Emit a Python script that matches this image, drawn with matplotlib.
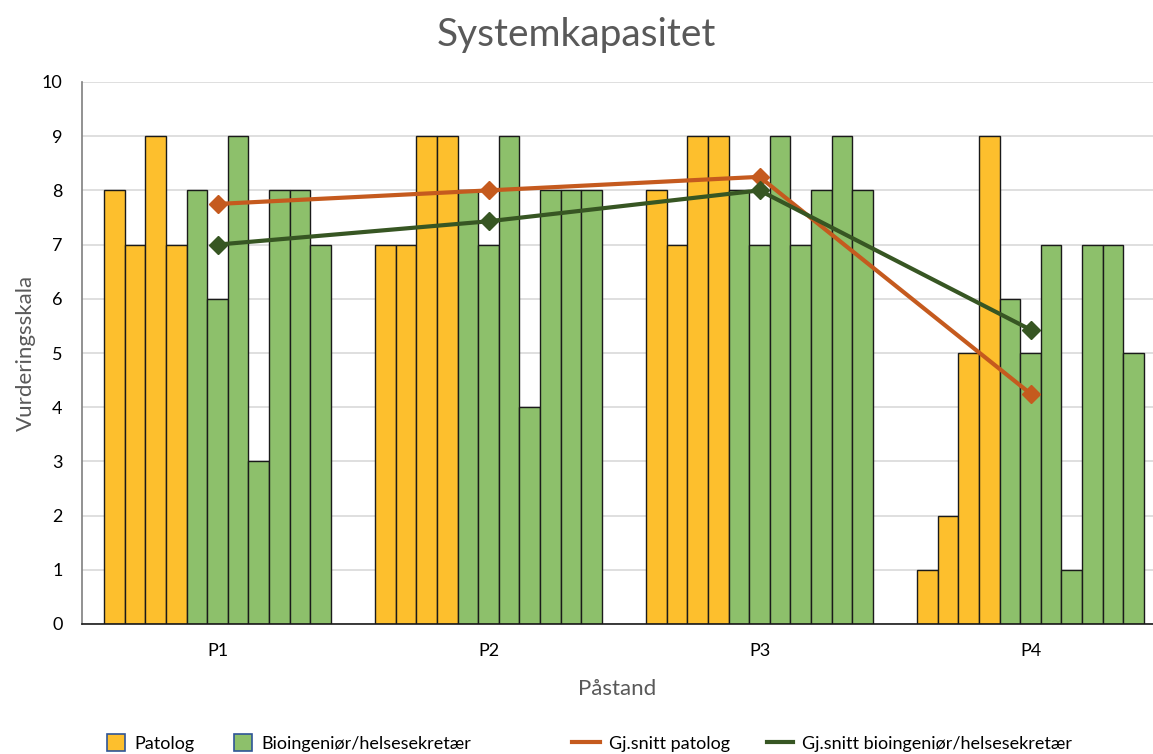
import matplotlib

matplotlib.use("Agg")
import matplotlib.pyplot as plt
import numpy as np
from matplotlib.lines import Line2D
from matplotlib.patches import Patch

# --- data: one score per respondent, per statement ---
statements = ["P1", "P2", "P3", "P4"]
patolog = [
    [8, 7, 9, 7],
    [7, 7, 9, 9],
    [8, 7, 9, 9],
    [1, 2, 5, 9],
]
bioingenior = [
    [8, 6, 9, 3, 8, 8, 7],
    [8, 7, 9, 4, 8, 8, 8],
    [8, 7, 9, 7, 8, 9, 8],
    [6, 5, 7, 1, 7, 7, 5],
]
avg_patolog = [7.75, 8.0, 8.25, 4.25]
avg_bio = [7.0, 7.43, 8.0, 5.43]

YELLOW = "#FDBF2D"
GREEN = "#8DC06B"
ORANGE = "#C55A1E"
DKGREEN = "#375623"
GRAY = "#595959"
GRID = "#D9D9D9"

W, H = 1153, 754
plt.rcParams["font.family"] = ["Lato", "DejaVu Sans"]

fig = plt.figure(figsize=(W / 100, H / 100), dpi=100)
ax = fig.add_axes([82 / W, 1 - 624 / H, (W - 82) / W, (624 - 82) / H])

n_bars = 11
group_w = 0.838
bw = group_w / n_bars
for i in range(len(statements)):
    vals = patolog[i] + bioingenior[i]
    cols = [YELLOW] * len(patolog[i]) + [GREEN] * len(bioingenior[i])
    xs = i - group_w / 2 + bw * (np.arange(n_bars) + 0.5)
    ax.bar(xs, vals, width=bw, color=cols, edgecolor="#1a1a1a", linewidth=1.0, zorder=2)

x = np.arange(len(statements))
ax.plot(x, avg_patolog, "-D", color=ORANGE, lw=3, ms=9, zorder=4)
ax.plot(x, avg_bio, "-D", color=DKGREEN, lw=3, ms=9, zorder=4)

ax.set_xlim(-0.5, 3.452)
ax.set_ylim(0, 10)
ax.set_yticks(range(11))
ax.set_xticks(x)
ax.set_xticklabels(statements)
ax.tick_params(axis="both", length=0, labelsize=13, labelcolor="black")
ax.tick_params(axis="y", pad=14)
ax.tick_params(axis="x", pad=14)
ax.yaxis.grid(True, color=GRID, lw=1.2, zorder=0)
ax.set_axisbelow(True)
for s in ["top", "right"]:
    ax.spines[s].set_visible(False)
ax.spines["left"].set_color("#7f7f7f")
ax.spines["left"].set_linewidth(1.2)
ax.spines["bottom"].set_color("#1a1a1a")
ax.spines["bottom"].set_linewidth(1.2)

ax.set_ylabel("Vurderingsskala", fontsize=16, color=GRAY, labelpad=4)
ax.set_xlabel("Påstand", fontsize=16, color=GRAY, labelpad=14)
fig.text(0.5, 1 - 35 / H, "Systemkapasitet", ha="center", va="center",
         fontsize=28, color=GRAY)

# legend entries placed one by one (uneven spacing along the bottom)
entries = [
    (107, Patch(facecolor=YELLOW, edgecolor="#2F5597", lw=1.2, label="Patolog"), 1.0),
    (234, Patch(facecolor=GREEN, edgecolor="#2F5597", lw=1.2,
                label="Bioingeniør/helsesekretær"), 1.0),
    (572, Line2D([0], [0], color=ORANGE, lw=3, label="Gj.snitt patolog"), 1.55),
    (767, Line2D([0], [0], color=DKGREEN, lw=3,
                 label="Gj.snitt bioingeniør/helsesekretær"), 1.45),
]
for px, h, hl in entries:
    fig.legend(handles=[h], loc="center left", bbox_to_anchor=(px / W, 1 - 743 / H),
               frameon=False, fontsize=13, borderpad=0, borderaxespad=0,
               handlelength=hl, handleheight=1.0, handletextpad=0.5)

fig.savefig("out.png", dpi=100)
